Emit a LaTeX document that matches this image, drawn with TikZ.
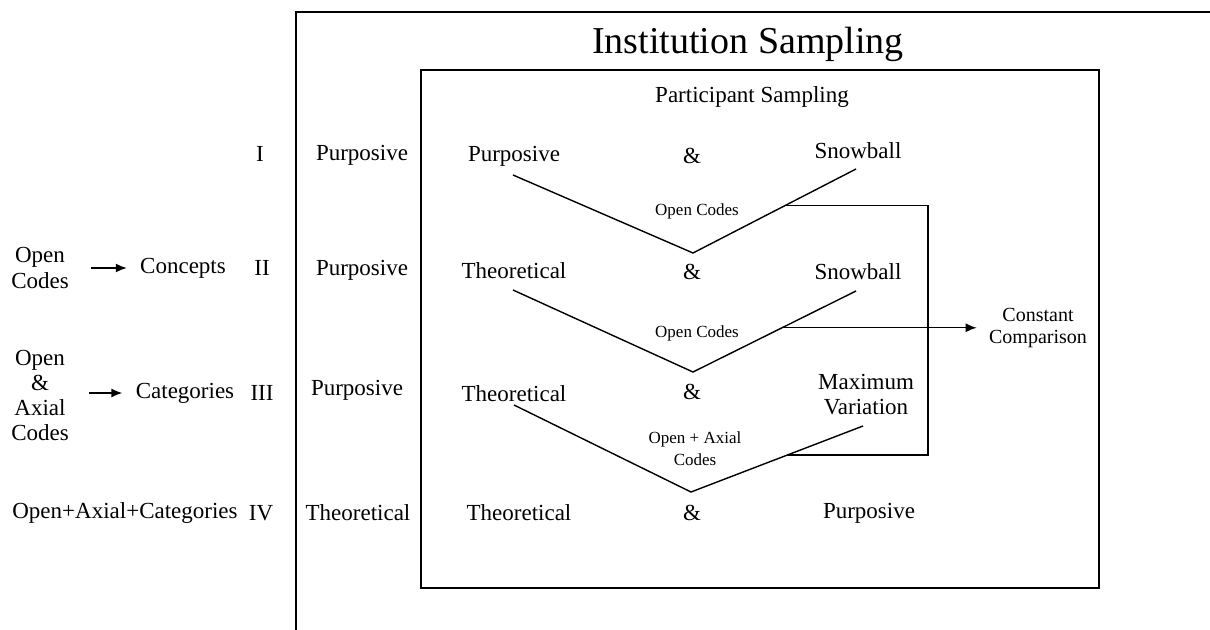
\documentclass[tikz,border=0pt]{standalone}
\usepackage{fontspec}
\setmainfont{Liberation Serif}
\usetikzlibrary{arrows.meta,calc}
\begin{document}
\begin{tikzpicture}[x=0.5pt,y=-0.5pt,
  frame/.style={line width=1.3pt},
  vline/.style={line width=0.7pt},
  lbl/.style={font=\fontsize{11.5}{13}\selectfont, inner sep=0pt, align=center},
  small/.style={font=\fontsize{8.5}{11}\selectfont, inner sep=0pt, align=center},
  mid/.style={font=\fontsize{10}{11}\selectfont, inner sep=0pt, align=center},
  title/.style={font=\fontsize{19}{22}\selectfont, inner sep=0pt},
  arr/.style={line width=0.8pt,-{Latex[length=5.5pt,width=4.5pt]}}]
\useasboundingbox (0,0) rectangle (1210,630);

% institution frame (open to the right and below)
\draw[frame] (296,630) -- (296,12) -- (1210,12);
% participant box
\draw[frame] (421,70) rectangle (1099,588);

\node[title] (inst) at (748,44) {Institution Sampling};
\node[lbl] (part) at (752,97) {Participant Sampling};

% left column: analysis stages
\node[lbl] (r1) at (260,154) {I};
\node[lbl] (oc1) at (40,268) {Open\\Codes};
\node[lbl] (conc) at (183,268) {Concepts};
\node[lbl] (r2) at (262,268) {II};
\node[lbl, font=\fontsize{11.5}{12.5}\selectfont] (oac) at (40,395) {Open\\\&\\Axial\\Codes};
\node[lbl] (cat) at (185,393) {Categories};
\node[lbl] (r3) at (262,393) {III};
\node[lbl] (oacc) at (125,513) {Open+Axial+Categories};
\node[lbl] (r4) at (261,513) {IV};

\draw[arr, shorten <=11pt, shorten >=6.5pt] (oc1) -- (conc);
\draw[arr, shorten <=10pt, shorten >=6.5pt] (oac.east |- cat) -- (cat);

% institution sampling strategy
\node[lbl] (ip1) at (362,155) {Purposive};
\node[lbl] (ip2) at (362,270) {Purposive};
\node[lbl] (ip3) at (357,390) {Purposive};
\node[lbl] (it4) at (358,513) {Theoretical};

% participant sampling strategies
\node[lbl] (a1) at (514,156) {Purposive};
\node[lbl] (m1) at (692,156) {\&};
\node[lbl] (b1) at (858,151) {Snowball};
\node[lbl] (a2) at (514,271) {Theoretical};
\node[lbl] (m2) at (692,272) {\&};
\node[lbl] (b2) at (858,272) {Snowball};
\node[lbl] (a3) at (514,394) {Theoretical};
\node[lbl] (m3) at (692,392) {\&};
\node[lbl, font=\fontsize{11.5}{12.5}\selectfont] (b3) at (866,395) {Maximum\\Variation};
\node[lbl] (a4) at (519,513) {Theoretical};
\node[lbl] (m4) at (692,513) {\&};
\node[lbl] (b4) at (869,513) {Purposive};

% funnels
\coordinate (v1l) at (513,175);
\coordinate (v1a) at (693,253);
\coordinate (v1r) at (856,169);
\coordinate (v2l) at (513,290);
\coordinate (v2a) at (693,372);
\coordinate (v2r) at (856,291);
\coordinate (v3l) at (514,405);
\coordinate (v3a) at (691,492);
\coordinate (v3r) at (863,426);
\draw[vline] (v1l) -- (v1a) -- (v1r);
\draw[vline] (v2l) -- (v2a) -- (v2r);
\draw[vline] (v3l) -- (v3a) -- (v3r);

\node[small] (c1) at (697,211) {Open Codes};
\node[small] (c2) at (697,333) {Open Codes};
\node[small] (c3) at (695,449) {Open + Axial\\Codes};

% constant comparison loop
\coordinate (k1) at ($(v1a)!0.564!(v1r)$);
\coordinate (k2) at ($(v2a)!0.546!(v2r)$);
\coordinate (k3) at ($(v3a)!0.559!(v3r)$);
\coordinate (kx) at (928,0);
\node[mid] (cc) at (1038,328) {Constant\\Comparison};
\draw[vline] (k1) -- (k1 -| kx) -- (k3 -| kx) -- (k3);
\draw[arr, line width=0.7pt, shorten >=6pt] (k2) -- (k2 -| cc.west);
\end{tikzpicture}
\end{document}
